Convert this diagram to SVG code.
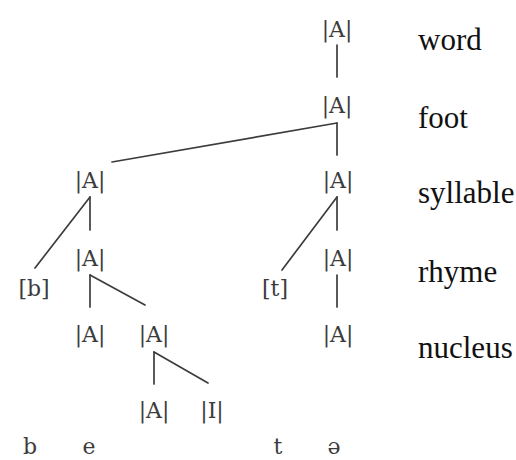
<svg xmlns="http://www.w3.org/2000/svg" width="516" height="460" viewBox="0 0 516 460">
  <style>
    .el { font-family: "DejaVu Serif", "Liberation Serif", serif; font-size: 22px; fill: #3c3c3c; text-anchor: middle; }
    .seg { font-family: "DejaVu Serif", "Liberation Serif", serif; font-size: 22px; fill: #3c3c3c; text-anchor: middle; }
    .lvl { font-family: "Liberation Serif", serif; font-size: 31px; fill: #111; }
    .edges line { stroke: #3c3c3c; stroke-width: 1.7; stroke-linecap: round; }
  </style>
  <rect width="516" height="460" fill="#fff"/>

  <!-- branches of the element tree -->
  <g id="connectors" class="edges">
    <line x1="337" y1="45" x2="337" y2="77"/>
    <line x1="337" y1="123" x2="337" y2="155"/>
    <line x1="337" y1="123" x2="112" y2="162"/>
    <line x1="90" y1="197" x2="90" y2="230"/>
    <line x1="90" y1="197" x2="35" y2="268"/>
    <line x1="337" y1="197" x2="337" y2="230"/>
    <line x1="337" y1="197" x2="282" y2="270"/>
    <line x1="90" y1="275" x2="90" y2="307"/>
    <line x1="90" y1="275" x2="145" y2="305"/>
    <line x1="337" y1="275" x2="337" y2="307"/>
    <line x1="154" y1="352" x2="154" y2="384"/>
    <line x1="154" y1="352" x2="208" y2="383"/>
  </g>

  <!-- tree nodes -->
  <g id="word-A"><text class="el" x="337" y="37">|A|</text></g>
  <g id="foot-A"><text class="el" x="337" y="113">|A|</text></g>
  <g id="syllable1-A"><text class="el" x="90" y="188">|A|</text></g>
  <g id="syllable2-A"><text class="el" x="338" y="188">|A|</text></g>
  <g id="rhyme1-A"><text class="el" x="90" y="266">|A|</text></g>
  <g id="rhyme2-A"><text class="el" x="338" y="266">|A|</text></g>
  <g id="onset-b"><text class="el" x="34" y="296">[b]</text></g>
  <g id="onset-t"><text class="el" x="275" y="296">[t]</text></g>
  <g id="nucleus1-A"><text class="el" x="90" y="342">|A|</text></g>
  <g id="nucleus2-A"><text class="el" x="154" y="342">|A|</text></g>
  <g id="nucleus3-A"><text class="el" x="338" y="342">|A|</text></g>
  <g id="head-A"><text class="el" x="154" y="418">|A|</text></g>
  <g id="dep-I"><text class="el" x="212" y="418">|I|</text></g>

  <!-- segments -->
  <g id="segments">
    <text class="seg" x="30" y="454">b</text>
    <text class="seg" x="89" y="454">e</text>
    <text class="seg" x="278" y="454">t</text>
    <text class="seg" x="334" y="454">ə</text>
  </g>

  <!-- prosodic levels -->
  <g id="levels">
    <text class="lvl" x="418" y="50">word</text>
    <text class="lvl" x="418" y="128">foot</text>
    <text class="lvl" x="418" y="203">syllable</text>
    <text class="lvl" x="418" y="282">rhyme</text>
    <text class="lvl" x="418" y="358">nucleus</text>
  </g>
</svg>
